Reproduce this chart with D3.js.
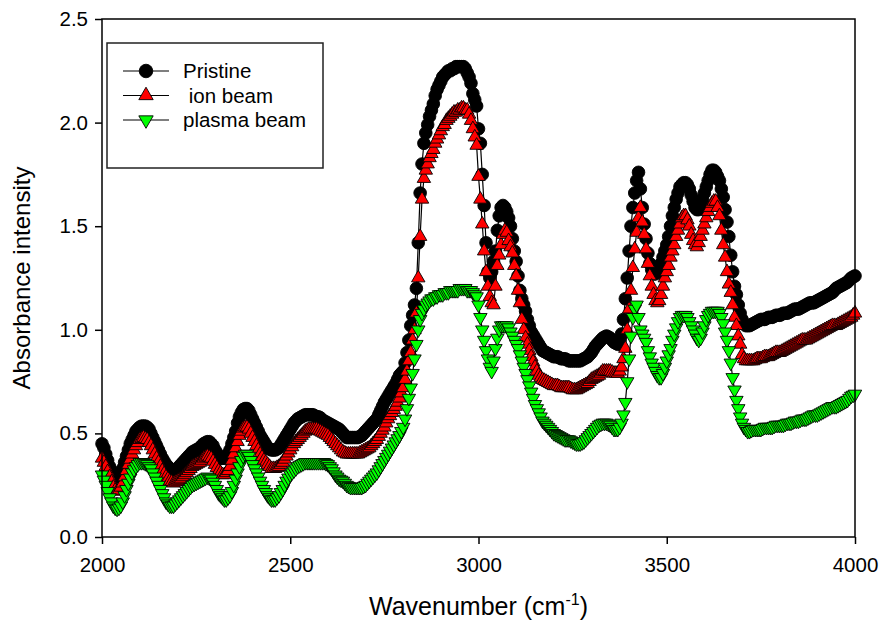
<!DOCTYPE html>
<html>
<head>
<meta charset="utf-8">
<script src="https://cdn.jsdelivr.net/npm/d3@7"></script>
<style>
body { margin: 0; background: #fff; }
text { font-family: "Liberation Sans", Arial, sans-serif; fill: #000; }
</style>
</head>
<body>
<svg id="chart" width="880" height="624"></svg>
<script>
// spectral grid, 5 cm-1 steps
let wavenumber = d3.range(2000, 4001, 5)

let pristine = [
    // 2000-2795
    0.45, 0.43, 0.40, 0.37, 0.34, 0.32, 0.30, 0.29, 0.29, 0.30,
    0.31, 0.33, 0.36, 0.39, 0.42, 0.45, 0.47, 0.49, 0.51, 0.52,
    0.53, 0.535, 0.535, 0.535, 0.53, 0.52, 0.50, 0.48, 0.46, 0.44,
    0.42, 0.40, 0.38, 0.365, 0.35, 0.34, 0.33, 0.325, 0.32, 0.325,
    0.33, 0.34, 0.35, 0.36, 0.37, 0.38, 0.39, 0.40, 0.41, 0.415,
    0.42, 0.425, 0.43, 0.44, 0.45, 0.455, 0.46, 0.46, 0.45, 0.44,
    0.42, 0.405, 0.39, 0.38, 0.38, 0.38, 0.39, 0.40, 0.42, 0.45,
    0.48, 0.51, 0.55, 0.58, 0.60, 0.615, 0.62, 0.62, 0.61, 0.59,
    0.57, 0.55, 0.53, 0.51, 0.49, 0.475, 0.46, 0.445, 0.43, 0.425,
    0.42, 0.42, 0.42, 0.425, 0.43, 0.445, 0.46, 0.475, 0.49, 0.505,
    0.52, 0.535, 0.55, 0.56, 0.57, 0.575, 0.58, 0.585, 0.59, 0.59,
    0.59, 0.59, 0.59, 0.585, 0.58, 0.58, 0.575, 0.565, 0.56, 0.555,
    0.55, 0.545, 0.54, 0.535, 0.53, 0.525, 0.52, 0.51, 0.50, 0.49,
    0.48, 0.48, 0.48, 0.48, 0.48, 0.48, 0.48, 0.485, 0.49, 0.50,
    0.51, 0.52, 0.53, 0.54, 0.55, 0.56, 0.57, 0.59, 0.61, 0.63,
    0.65, 0.665, 0.68, 0.695, 0.71, 0.725, 0.74, 0.76, 0.78, 0.79,
    // 2800-3125
    0.80, 0.84, 0.89, 0.95, 1.02, 1.07, 1.12, 1.20, 1.42, 1.66,
    1.80, 1.90, 1.95, 1.99, 2.03, 2.06, 2.09, 2.13, 2.16, 2.18,
    2.20, 2.22, 2.23, 2.24, 2.25, 2.25, 2.26, 2.26, 2.27, 2.27,
    2.27, 2.27, 2.27, 2.26, 2.24, 2.22, 2.19, 2.14, 2.11, 2.08,
    1.97, 1.90, 1.75, 1.60, 1.42, 1.28, 1.25, 1.28, 1.33, 1.38,
    1.48, 1.55, 1.59, 1.60, 1.59, 1.57, 1.54, 1.50, 1.44, 1.38,
    1.33, 1.26, 1.19, 1.15, 1.12, 1.09,
    // 3130-3375
    1.05, 1.02, 0.99, 0.975, 0.96, 0.945, 0.93, 0.915, 0.90, 0.895,
    0.89, 0.885, 0.88, 0.875, 0.87, 0.87, 0.87, 0.865, 0.86, 0.86,
    0.86, 0.855, 0.85, 0.85, 0.85, 0.85, 0.85, 0.85, 0.85, 0.855,
    0.86, 0.865, 0.87, 0.88, 0.89, 0.905, 0.92, 0.93, 0.94, 0.95,
    0.96, 0.965, 0.97, 0.965, 0.96, 0.95, 0.94, 0.935, 0.93, 0.95,
    // 3380-3715
    0.98, 1.05, 1.15, 1.25, 1.38, 1.50, 1.59, 1.66, 1.72, 1.76,
    1.68, 1.59, 1.51, 1.44, 1.37, 1.32, 1.29, 1.27, 1.27, 1.28,
    1.30, 1.32, 1.35, 1.38, 1.41, 1.45, 1.50, 1.55, 1.59, 1.63,
    1.66, 1.69, 1.70, 1.71, 1.71, 1.70, 1.68, 1.65, 1.62, 1.59,
    1.58, 1.58, 1.60, 1.63, 1.66, 1.69, 1.72, 1.75, 1.77, 1.77,
    1.76, 1.74, 1.72, 1.68, 1.64, 1.58, 1.52, 1.45, 1.36, 1.28,
    1.21, 1.17, 1.12, 1.08, 1.05, 1.03, 1.02, 1.02,
    // 3720-4000
    1.02, 1.025, 1.03, 1.035, 1.04, 1.045, 1.05, 1.05, 1.05, 1.055,
    1.06, 1.06, 1.06, 1.065, 1.07, 1.07, 1.07, 1.075, 1.08, 1.08,
    1.08, 1.085, 1.09, 1.095, 1.10, 1.10, 1.10, 1.105, 1.11, 1.115,
    1.12, 1.125, 1.13, 1.13, 1.13, 1.135, 1.14, 1.145, 1.15, 1.155,
    1.16, 1.165, 1.17, 1.175, 1.18, 1.19, 1.20, 1.205, 1.21, 1.215,
    1.22, 1.225, 1.23, 1.24, 1.25, 1.255, 1.26
]

let ionBeam = [
    // 2000-2795
    0.38, 0.36, 0.34, 0.315, 0.29, 0.265, 0.24, 0.225, 0.22, 0.225,
    0.24, 0.26, 0.29, 0.32, 0.35, 0.375, 0.40, 0.42, 0.44, 0.455,
    0.47, 0.475, 0.48, 0.475, 0.47, 0.455, 0.44, 0.42, 0.40, 0.38,
    0.36, 0.34, 0.32, 0.305, 0.29, 0.28, 0.27, 0.265, 0.26, 0.265,
    0.27, 0.275, 0.28, 0.29, 0.30, 0.31, 0.32, 0.33, 0.34, 0.345,
    0.35, 0.355, 0.36, 0.37, 0.38, 0.385, 0.39, 0.385, 0.38, 0.365,
    0.35, 0.335, 0.32, 0.31, 0.30, 0.30, 0.31, 0.32, 0.34, 0.37,
    0.40, 0.43, 0.46, 0.49, 0.51, 0.525, 0.53, 0.53, 0.52, 0.50,
    0.48, 0.46, 0.44, 0.42, 0.40, 0.385, 0.37, 0.36, 0.35, 0.34,
    0.33, 0.33, 0.33, 0.335, 0.34, 0.35, 0.36, 0.375, 0.39, 0.405,
    0.42, 0.435, 0.45, 0.46, 0.47, 0.48, 0.49, 0.50, 0.51, 0.515,
    0.52, 0.52, 0.52, 0.52, 0.52, 0.515, 0.51, 0.505, 0.50, 0.495,
    0.49, 0.48, 0.47, 0.46, 0.45, 0.44, 0.43, 0.42, 0.41, 0.405,
    0.40, 0.40, 0.40, 0.40, 0.40, 0.40, 0.40, 0.405, 0.41, 0.415,
    0.42, 0.425, 0.43, 0.44, 0.45, 0.46, 0.47, 0.485, 0.50, 0.515,
    0.53, 0.55, 0.57, 0.585, 0.60, 0.615, 0.63, 0.65, 0.67, 0.695,
    // 2800-3125
    0.72, 0.76, 0.80, 0.85, 0.89, 0.95, 1.00, 1.08, 1.25, 1.45,
    1.63, 1.73, 1.77, 1.80, 1.83, 1.85, 1.87, 1.90, 1.92, 1.94,
    1.96, 1.98, 1.99, 2.01, 2.02, 2.03, 2.04, 2.05, 2.05, 2.06,
    2.06, 2.07, 2.07, 2.06, 2.06, 2.04, 2.01, 1.97, 1.93, 1.89,
    1.74, 1.63, 1.51, 1.38, 1.28, 1.21, 1.16, 1.13, 1.12, 1.21,
    1.31, 1.36, 1.41, 1.46, 1.48, 1.47, 1.43, 1.40, 1.37, 1.31,
    1.26, 1.19, 1.13, 1.05, 1.00, 0.96,
    // 3130-3375
    0.93, 0.90, 0.87, 0.845, 0.82, 0.80, 0.78, 0.77, 0.76, 0.755,
    0.75, 0.745, 0.74, 0.735, 0.73, 0.73, 0.73, 0.725, 0.72, 0.72,
    0.72, 0.72, 0.72, 0.715, 0.71, 0.71, 0.71, 0.715, 0.72, 0.725,
    0.73, 0.735, 0.74, 0.75, 0.76, 0.765, 0.77, 0.775, 0.78, 0.79,
    0.80, 0.80, 0.80, 0.80, 0.80, 0.795, 0.79, 0.79, 0.79, 0.80,
    // 3380-3715
    0.82, 0.86, 0.91, 1.00, 1.10, 1.19, 1.30, 1.39, 1.47, 1.54,
    1.59, 1.52, 1.46, 1.39, 1.32, 1.26, 1.21, 1.17, 1.14, 1.13,
    1.14, 1.17, 1.21, 1.25, 1.28, 1.31, 1.35, 1.38, 1.41, 1.45,
    1.48, 1.51, 1.54, 1.55, 1.55, 1.53, 1.50, 1.46, 1.43, 1.41,
    1.40, 1.42, 1.45, 1.48, 1.51, 1.54, 1.57, 1.59, 1.61, 1.62,
    1.62, 1.59, 1.55, 1.48, 1.41, 1.35, 1.28, 1.22, 1.18, 1.12,
    1.06, 1.02, 0.97, 0.93, 0.88, 0.86, 0.85, 0.85,
    // 3720-4000
    0.85, 0.85, 0.85, 0.855, 0.86, 0.86, 0.86, 0.865, 0.87, 0.87,
    0.87, 0.875, 0.88, 0.885, 0.89, 0.89, 0.89, 0.895, 0.90, 0.905,
    0.91, 0.915, 0.92, 0.925, 0.93, 0.935, 0.94, 0.945, 0.95, 0.95,
    0.95, 0.955, 0.96, 0.965, 0.97, 0.975, 0.98, 0.985, 0.99, 0.995,
    1.00, 1.005, 1.01, 1.015, 1.02, 1.02, 1.02, 1.025, 1.03, 1.035,
    1.04, 1.045, 1.05, 1.055, 1.06, 1.07, 1.08
]

let plasmaBeam = [
    // 2000-2795
    0.30, 0.275, 0.25, 0.22, 0.19, 0.17, 0.15, 0.14, 0.135, 0.14,
    0.15, 0.17, 0.20, 0.23, 0.26, 0.285, 0.31, 0.325, 0.34, 0.35,
    0.36, 0.36, 0.36, 0.355, 0.35, 0.34, 0.33, 0.31, 0.29, 0.27,
    0.25, 0.23, 0.21, 0.19, 0.17, 0.16, 0.15, 0.15, 0.15, 0.16,
    0.17, 0.18, 0.19, 0.20, 0.21, 0.22, 0.23, 0.24, 0.25, 0.255,
    0.26, 0.265, 0.27, 0.275, 0.28, 0.285, 0.29, 0.285, 0.28, 0.265,
    0.25, 0.23, 0.21, 0.20, 0.19, 0.18, 0.18, 0.19, 0.20, 0.22,
    0.25, 0.28, 0.31, 0.34, 0.37, 0.39, 0.40, 0.40, 0.39, 0.37,
    0.35, 0.33, 0.31, 0.29, 0.27, 0.25, 0.23, 0.215, 0.20, 0.19,
    0.18, 0.18, 0.18, 0.19, 0.20, 0.215, 0.23, 0.25, 0.27, 0.285,
    0.30, 0.31, 0.32, 0.33, 0.34, 0.345, 0.35, 0.355, 0.36, 0.36,
    0.36, 0.36, 0.36, 0.36, 0.36, 0.36, 0.36, 0.36, 0.36, 0.355,
    0.35, 0.34, 0.33, 0.315, 0.30, 0.29, 0.28, 0.275, 0.27, 0.26,
    0.25, 0.245, 0.24, 0.24, 0.24, 0.24, 0.24, 0.24, 0.24, 0.245,
    0.25, 0.26, 0.27, 0.28, 0.29, 0.30, 0.31, 0.325, 0.34, 0.355,
    0.37, 0.385, 0.40, 0.415, 0.43, 0.445, 0.46, 0.475, 0.49, 0.51,
    // 2800-3125
    0.53, 0.57, 0.62, 0.67, 0.72, 0.79, 0.86, 0.93, 1.00, 1.05,
    1.08, 1.10, 1.12, 1.13, 1.14, 1.15, 1.15, 1.16, 1.16, 1.17,
    1.17, 1.17, 1.18, 1.18, 1.18, 1.19, 1.19, 1.19, 1.19, 1.19,
    1.20, 1.20, 1.20, 1.20, 1.19, 1.19, 1.19, 1.18, 1.17, 1.16,
    1.12, 1.06, 1.00, 0.95, 0.90, 0.86, 0.82, 0.80, 0.85, 0.91,
    0.96, 1.00, 1.02, 1.02, 1.02, 1.02, 1.01, 0.99, 0.97, 0.95,
    0.93, 0.91, 0.88, 0.85, 0.82, 0.79,
    // 3130-3375
    0.76, 0.73, 0.70, 0.67, 0.64, 0.62, 0.60, 0.58, 0.56, 0.55,
    0.54, 0.53, 0.52, 0.51, 0.50, 0.495, 0.49, 0.485, 0.48, 0.475,
    0.47, 0.47, 0.47, 0.465, 0.46, 0.455, 0.45, 0.45, 0.45, 0.455,
    0.46, 0.47, 0.48, 0.49, 0.50, 0.51, 0.52, 0.53, 0.54, 0.545,
    0.55, 0.55, 0.55, 0.545, 0.54, 0.53, 0.52, 0.52, 0.52, 0.53,
    // 3380-3715
    0.55, 0.59, 0.65, 0.75, 0.86, 0.97, 1.06, 1.10, 1.12, 1.06,
    1.00, 0.98, 0.96, 0.94, 0.90, 0.87, 0.84, 0.82, 0.80, 0.78,
    0.77, 0.77, 0.79, 0.82, 0.85, 0.88, 0.91, 0.95, 0.98, 1.01,
    1.04, 1.06, 1.07, 1.07, 1.07, 1.06, 1.04, 1.02, 1.00, 0.98,
    0.96, 0.95, 0.96, 0.99, 1.02, 1.05, 1.07, 1.08, 1.09, 1.09,
    1.09, 1.09, 1.08, 1.06, 1.03, 0.99, 0.95, 0.90, 0.84, 0.77,
    0.71, 0.66, 0.62, 0.58, 0.55, 0.53, 0.52, 0.51,
    // 3720-4000
    0.51, 0.515, 0.52, 0.52, 0.52, 0.52, 0.52, 0.525, 0.53, 0.53,
    0.53, 0.53, 0.53, 0.535, 0.54, 0.54, 0.54, 0.54, 0.54, 0.545,
    0.55, 0.55, 0.55, 0.555, 0.56, 0.56, 0.56, 0.565, 0.57, 0.57,
    0.57, 0.575, 0.58, 0.585, 0.59, 0.59, 0.59, 0.595, 0.60, 0.605,
    0.61, 0.615, 0.62, 0.625, 0.63, 0.63, 0.63, 0.635, 0.64, 0.645,
    0.65, 0.655, 0.66, 0.67, 0.68, 0.685, 0.69
]

let seriesNames = ["Pristine", " ion beam", "plasma beam"]
let xTicks = [2000, 2500, 3000, 3500, 4000]
let yTicks = [0, 0.5, 1.0, 1.5, 2.0, 2.5]

let margin = {top: 19, right: 25, bottom: 87, left: 102}
let width = 880, height = 624
let plot_w = width - margin.left - margin.right
let plot_h = height - margin.top - margin.bottom

let svg = d3.select("#chart")
let g = svg.append("g")
    .attr("transform", `translate(${margin.left}, ${margin.top})`)

let x = d3.scaleLinear().domain([2000, 4000]).range([0, plot_w])
let y = d3.scaleLinear().domain([0, 2.5]).range([plot_h, 0])

// series: data, marker shape, fill, rotation
let series = [
    {name: seriesNames[0], values: pristine, symbol: d3.symbolCircle, size: 125, fill: "#000000", rot: 0},
    {name: seriesNames[1], values: ionBeam, symbol: d3.symbolTriangle, size: 78, fill: "#ff0000", rot: 0},
    {name: seriesNames[2], values: plasmaBeam, symbol: d3.symbolTriangle, size: 78, fill: "#00ff00", rot: 180}
]

let line = d3.line()
    .x(function(d) { return x(d[0]) })
    .y(function(d) { return y(d[1]) })

series.forEach(function(s) {
    let pts = wavenumber.map(function(w, i) { return [w, s.values[i]] })
    let sg = g.append("g").attr("class", "series")

    sg.append("path")
        .datum(pts)
        .attr("d", line)
        .attr("fill", "none")
        .attr("stroke", "#000")
        .attr("stroke-width", 1.2)

    sg.selectAll("path.mark")
        .data(pts)
        .enter()
        .append("path")
        .attr("class", "mark")
        .attr("d", d3.symbol().type(s.symbol).size(s.size))
        .attr("transform", function(d) { return `translate(${x(d[0])}, ${y(d[1])}) rotate(${s.rot})` })
        .attr("fill", s.fill)
        .attr("stroke", "#000")
        .attr("stroke-width", 0.9)
})

// axes
let xAxis = g.append("g")
    .attr("transform", `translate(0, ${plot_h})`)
    .call(d3.axisBottom(x).tickValues(xTicks).tickSize(7).tickSizeOuter(0).tickPadding(13).tickFormat(d3.format("d")))
let yAxis = g.append("g")
    .call(d3.axisLeft(y).tickValues(yTicks).tickSize(7).tickSizeOuter(0).tickPadding(7).tickFormat(d3.format(".1f")))

xAxis.select(".domain").remove()
yAxis.select(".domain").remove()
g.selectAll(".tick line").attr("stroke", "#000").attr("stroke-width", 1.5)
g.selectAll(".tick text").style("font-size", "20.5px").attr("fill", "#000")

g.append("rect")
    .attr("width", plot_w)
    .attr("height", plot_h)
    .attr("fill", "none")
    .attr("stroke", "#000")
    .attr("stroke-width", 1.5)

// axis titles
let xTitle = svg.append("text")
    .attr("x", margin.left + plot_w / 2)
    .attr("y", 615)
    .style("text-anchor", "middle")
    .style("font-size", "25px")
xTitle.append("tspan").text("Wavenumber (cm")
xTitle.append("tspan").text("-1").attr("dy", -10).style("font-size", "16px")
xTitle.append("tspan").text(")").attr("dy", 10)

svg.append("text")
    .attr("transform", `translate(30, ${margin.top + plot_h / 2}) rotate(-90)`)
    .style("text-anchor", "middle")
    .style("font-size", "24px")
    .text("Absorbance intensity")

// legend
let legend = svg.append("g").attr("transform", "translate(107, 43)")
legend.append("rect")
    .attr("width", 216)
    .attr("height", 125)
    .attr("fill", "#fff")
    .attr("stroke", "#222")
    .attr("stroke-width", 1.5)

let rows = legend.selectAll("g.row")
    .data(series)
    .enter()
    .append("g")
    .attr("class", "row")
    .attr("transform", function(d, i) { return `translate(0, ${28 + i * 24.5})` })

rows.append("line")
    .attr("x1", 16).attr("x2", 62)
    .attr("stroke", "#000").attr("stroke-width", 1.2)
rows.append("path")
    .attr("d", function(d) { return d3.symbol().type(d.symbol).size(d.size * 1.15)() })
    .attr("transform", function(d) { return `translate(39, 0) rotate(${d.rot})` })
    .attr("fill", function(d) { return d.fill })
    .attr("stroke", "#000")
    .attr("stroke-width", 0.9)
rows.append("text")
    .attr("x", 76)
    .attr("y", 7)
    .style("font-size", "20.5px")
    .style("white-space", "pre")
    .text(function(d) { return d.name })
</script>
</body>
</html>
